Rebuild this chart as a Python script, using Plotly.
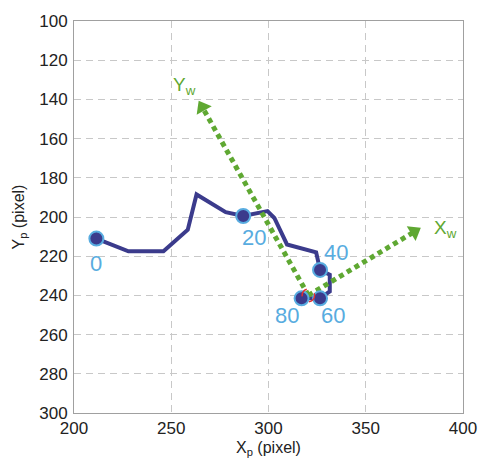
import math
import plotly.graph_objects as go

# ---- data ----
traj_x = [211.5, 228, 246, 258.5, 263, 278, 287, 299.5, 303, 309.5, 324.5, 325.5, 326.5, 331.5, 331.5, 326.5, 317]
traj_y = [211, 217.5, 217.5, 206.5, 188.5, 197.5, 199.5, 197, 200.5, 214, 218, 223, 227, 229.5, 238, 241.5, 241.5]

mark_x = [211.5, 287, 326.5, 326.5, 317]
mark_y = [211, 199.5, 227, 241.5, 241.5]
mark_labels = ["0", "20", "40", "60", "80"]

origin = (320.5, 240)
yw_end = (266, 144)
xw_end = (375, 207.5)
yw_label_pos = (257, 133)
xw_label_pos = (391, 206)

x_ticks = [200, 250, 300, 350, 400]
y_ticks = [100, 120, 140, 160, 180, 200, 220, 240, 260, 280, 300]

# ---- styling ----
NAVY = "#3b3b8c"
LBLUE = "#58ace0"
GREEN = "#5fa832"
FONT = "Liberation Sans, Arial, sans-serif"

fig = go.Figure()

fig.add_trace(go.Scatter(x=traj_x, y=traj_y, mode="lines",
                         line=dict(color=NAVY, width=4), hoverinfo="skip"))


def arrow_angle(p0, p1):
    # screen angle (clockwise from up); y axis reversed, equal scales
    dx = p1[0] - p0[0]
    dy_up = p0[1] - p1[1]  # reversed axis: smaller y is upward
    return math.degrees(math.atan2(dx, dy_up))


for end in (yw_end, xw_end):
    fig.add_trace(go.Scatter(x=[origin[0], end[0]], y=[origin[1], end[1]], mode="lines",
                             line=dict(color=GREEN, width=5, dash="5px,4px"), hoverinfo="skip"))
    fig.add_trace(go.Scatter(x=[end[0]], y=[end[1]], mode="markers",
                             marker=dict(symbol="triangle-up", size=15, color=GREEN,
                                         angle=arrow_angle(origin, end),
                                         line=dict(width=0)), hoverinfo="skip"))

fig.add_trace(go.Scatter(x=mark_x, y=mark_y, mode="markers",
                         marker=dict(size=14, color=NAVY, line=dict(color=LBLUE, width=2)),
                         hoverinfo="skip"))

fig.add_shape(type="circle", xref="x", yref="y",
              x0=origin[0] - 3.2, x1=origin[0] + 3.2, y0=origin[1] - 3.2, y1=origin[1] + 3.2,
              line=dict(color="#e03030", width=1.5, dash="dash"))

shifts = [(0, -25), (11, -21), (16, 17), (13, -17), (-15, -17)]
for x, y, t, (sx, sy) in zip(mark_x, mark_y, mark_labels, shifts):
    fig.add_annotation(x=x, y=y, text=t, showarrow=False, xshift=sx, yshift=sy,
                       font=dict(family=FONT, size=22, color=LBLUE))

fig.add_annotation(x=yw_label_pos[0], y=yw_label_pos[1], text="Y<sub>w</sub>", showarrow=False,
                   font=dict(family=FONT, size=19, color=GREEN))
fig.add_annotation(x=xw_label_pos[0], y=xw_label_pos[1], text="X<sub>w</sub>", showarrow=False,
                   font=dict(family=FONT, size=19, color=GREEN))

fig.add_annotation(xref="paper", yref="paper", x=0.5, y=0, yanchor="top", yshift=-24,
                   text="X<sub>p</sub> (pixel)", showarrow=False,
                   font=dict(family=FONT, size=16, color="#222"))
fig.add_annotation(xref="paper", yref="paper", x=0, y=0.5, xanchor="right", xshift=-44,
                   text="Y<sub>p</sub> (pixel)", showarrow=False, textangle=-90,
                   font=dict(family=FONT, size=16, color="#222"))

axis_common = dict(showgrid=True, gridcolor="#c8c8c8", griddash="7px,5px", gridwidth=1,
                   showline=True, linecolor="#a0a0a0", linewidth=1, mirror=True,
                   zeroline=False, ticks="", tickfont=dict(family=FONT, size=17, color="#222"))

fig.update_xaxes(range=[200, 400], tickvals=x_ticks, **axis_common)
fig.update_yaxes(range=[300, 100], tickvals=y_ticks, ticklabelstandoff=2, **axis_common)

fig.update_layout(width=489, height=470, showlegend=False,
                  margin=dict(l=74, r=15, t=14, b=57),
                  paper_bgcolor="white", plot_bgcolor="white")

fig.write_html("out.html")
